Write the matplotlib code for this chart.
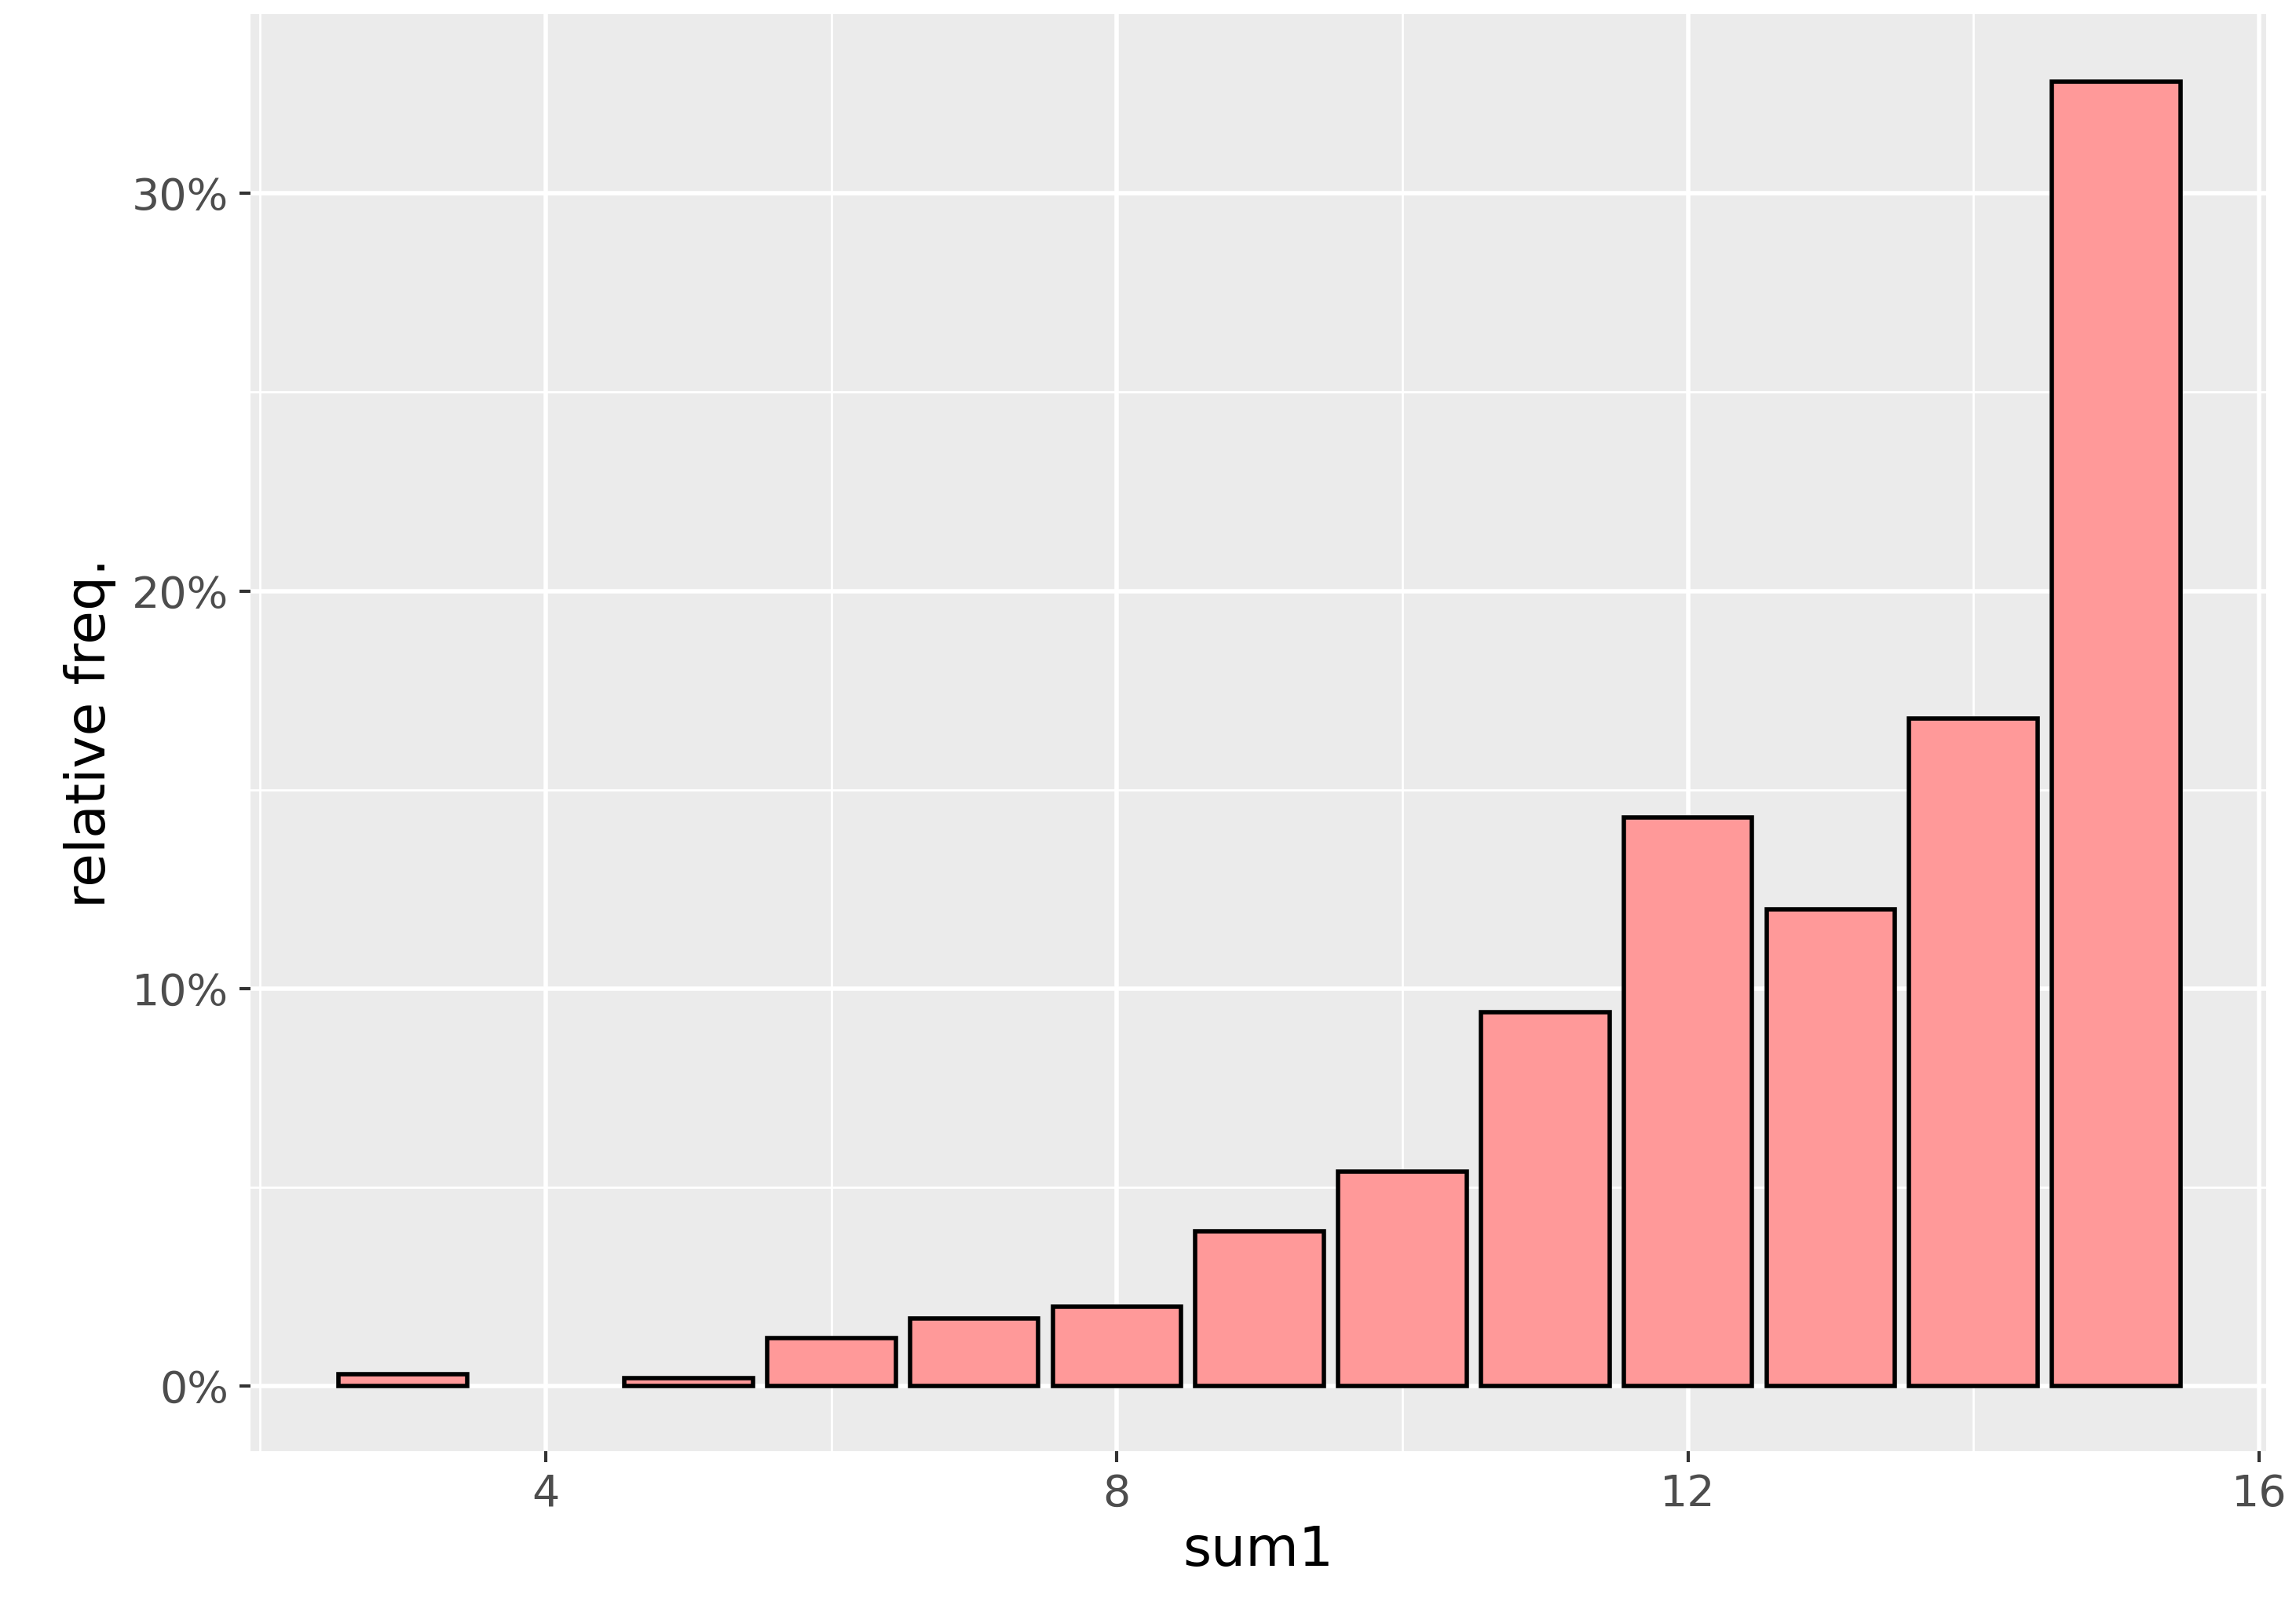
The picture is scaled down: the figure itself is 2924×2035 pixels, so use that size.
import numpy as np
import matplotlib.pyplot as plt
from matplotlib.ticker import FuncFormatter, MultipleLocator

sum1 = [3, 5, 6, 7, 8, 9, 10, 11, 12, 13, 14, 15]
rel_freq = [0.003, 0.002, 0.012, 0.017, 0.020, 0.039, 0.054, 0.094, 0.143, 0.120, 0.168, 0.328]

fig = plt.figure(figsize=(29.24, 20.35), dpi=100)
ax = fig.add_axes([0.109, 0.092, 0.878, 0.899])
ax.set_facecolor('#EBEBEB')

ax.bar(sum1, rel_freq, width=0.9, color='#FF9999', edgecolor='black', linewidth=4, zorder=3)

ax.set_xlim(1.93, 16.05)
ax.set_ylim(-0.0163, 0.345)
ax.xaxis.set_major_locator(MultipleLocator(4))
ax.xaxis.set_minor_locator(MultipleLocator(2))
ax.yaxis.set_major_locator(MultipleLocator(0.1))
ax.yaxis.set_minor_locator(MultipleLocator(0.05))
ax.yaxis.set_major_formatter(FuncFormatter(lambda v, p: f"{v*100:.0f}%"))

ax.grid(which='major', color='white', linewidth=4, zorder=0)
ax.grid(which='minor', color='white', linewidth=2, zorder=0)
ax.set_axisbelow(True)
for s in ax.spines.values():
    s.set_visible(False)

ax.tick_params(which='major', length=10, width=3, color='#333333', labelsize=40,
               labelcolor='#4D4D4D', pad=10)
ax.tick_params(which='minor', length=0)

ax.set_xlabel('sum1', fontsize=50, labelpad=8)
ax.set_ylabel('relative freq.', fontsize=50, labelpad=14)

plt.savefig('out.png')
